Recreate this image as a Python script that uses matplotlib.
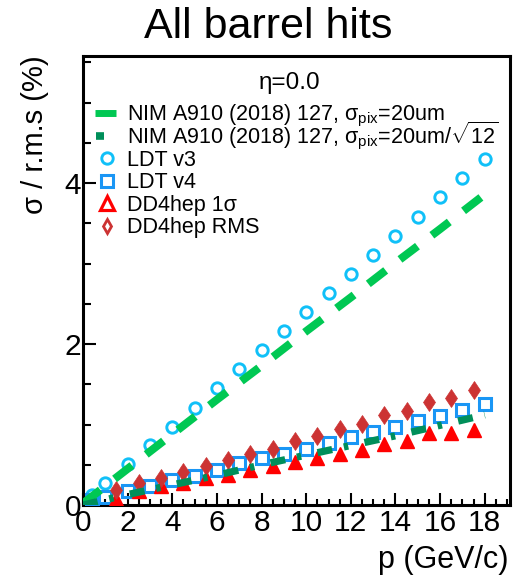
import matplotlib
matplotlib.use("Agg")
import matplotlib.pyplot as plt
from matplotlib.lines import Line2D
from matplotlib.ticker import MultipleLocator

plt.rcParams['font.family'] = ['Liberation Sans', 'DejaVu Sans']
plt.rcParams['mathtext.fontset'] = 'custom'
plt.rcParams['mathtext.rm'] = 'Liberation Sans'
plt.rcParams['mathtext.it'] = 'Liberation Sans:italic'
plt.rcParams['lines.scale_dashes'] = False

# data
p_v3 = [0.4, 1, 2, 3, 4, 5, 6, 7, 8, 9, 10, 11, 12, 13, 14, 15, 16, 17, 18]
ldt_v3 = [0.12, 0.27, 0.51, 0.74, 0.97, 1.20, 1.45, 1.69, 1.93, 2.16, 2.40,
          2.63, 2.87, 3.11, 3.34, 3.58, 3.83, 4.06, 4.30]
p_v4 = [0.4, 1, 2, 3, 4, 5, 6, 7, 8, 9, 10, 11, 12, 13, 14, 15, 16, 17, 18]
ldt_v4 = [0.06, 0.10, 0.17, 0.23, 0.31, 0.36, 0.43, 0.52, 0.58, 0.64, 0.70,
          0.77, 0.84, 0.91, 0.97, 1.05, 1.11, 1.18, 1.25]
p_dd = [1.5, 2.5, 3.5, 4.5, 5.5, 6.5, 7.5, 8.5, 9.5, 10.5, 11.5, 12.5, 13.5,
        14.5, 15.5, 16.5, 17.5]
dd_1sig = [0.08, 0.17, 0.23, 0.27, 0.33, 0.37, 0.43, 0.48, 0.53, 0.58, 0.63,
           0.68, 0.76, 0.80, 0.89, 0.89, 0.93]
dd_rms = [0.19, 0.27, 0.34, 0.41, 0.48, 0.56, 0.63, 0.70, 0.79, 0.86, 0.95,
          1.01, 1.12, 1.17, 1.28, 1.33, 1.43]
p_nim = [0, 2, 4, 6, 8, 10, 12, 14, 16, 18]
nim_20 = [0.02, 0.45, 0.88, 1.31, 1.73, 2.16, 2.58, 3.01, 3.43, 3.86]
nim_20s12 = [0.0, 0.13, 0.25, 0.37, 0.50, 0.62, 0.74, 0.86, 0.99, 1.12]

labels = ["NIM A910 (2018) 127, σ$_{\\rm pix}$=20um",
          "NIM A910 (2018) 127, σ$_{\\rm pix}$=20um/$\\sqrt{12}$",
          "LDT v3", "LDT v4", "DD4hep 1σ", "DD4hep RMS"]

c_light = '#00c853'
c_dark = '#008f5a'
c_v3 = '#10c0f8'
c_v4 = '#1a96f5'
c_tri = '#ff0000'
c_dia = '#cc3333'

W, H = 513, 577
fig = plt.figure(figsize=(W/100, H/100), dpi=100)
ax = fig.add_axes([83/W, 1-505/H, 427/W, 449/H])

ax.plot(p_v3, ldt_v3, ls='none', marker='o', ms=8.2, mfc='none', mec=c_v3, mew=2.1, zorder=3)
ax.plot(p_v4, ldt_v4, ls='none', marker='s', ms=8.2, mfc='none', mec=c_v4, mew=2.2, zorder=3)
ax.plot(p_dd, dd_1sig, ls='none', marker='^', ms=10.5, mfc=c_tri, mec=c_tri, mew=1, zorder=4)
ax.plot(p_dd, dd_rms, ls='none', marker='d', ms=9.5, mfc=c_dia, mec=c_dia, mew=0.5, zorder=4)
ax.plot(p_nim, nim_20, color=c_light, lw=5.8, dashes=(15.8, 13), zorder=5)
ax.plot(p_nim, nim_20s12, color=c_dark, lw=5.2, dashes=(10.8, 8.6, 3.2, 12), zorder=5)

ax.set_xlim(0, 19.13)
ax.set_ylim(0, 5.58)
ax.xaxis.set_major_locator(MultipleLocator(2))
ax.xaxis.set_minor_locator(MultipleLocator(0.5))
ax.yaxis.set_major_locator(MultipleLocator(2))
ax.yaxis.set_minor_locator(MultipleLocator(0.5))
ax.tick_params(axis='both', which='both', direction='in', width=1.5, labelsize=21.5,
               top=False, right=False)
ax.tick_params(axis='x', which='major', length=8.6, pad=3)
ax.tick_params(axis='x', which='minor', length=4.3)
ax.tick_params(axis='y', which='major', length=9.4, pad=1.5)
ax.tick_params(axis='y', which='minor', length=5.8)
for s in ax.spines.values():
    s.set_linewidth(2.2)

# legend, drawn by hand so the rows stay evenly spaced
styles = [
    dict(color=c_light, lw=5, solid_capstyle='butt'),
    dict(color=c_dark, lw=5.5, solid_capstyle='butt'),
    dict(ls='none', marker='o', ms=8.2, mfc='none', mec=c_v3, mew=2.1),
    dict(ls='none', marker='s', ms=8.2, mfc='none', mec=c_v4, mew=2.2),
    dict(ls='none', marker='^', ms=9.5, mfc='none', mec=c_tri, mew=2.3),
    dict(ls='none', marker='d', ms=7.5, mfc='none', mec=c_dia, mew=2.0),
]
spans = [(95, 116), (96, 104), None, None, None, None]
for i, (lab, st) in enumerate(zip(labels, styles)):
    yc = 113 + 22.5 * i
    if spans[i] is None:
        xs = [107/W]
    else:
        xs = [spans[i][0]/W, spans[i][1]/W]
    fig.add_artist(Line2D(xs, [1-yc/H]*len(xs), transform=fig.transFigure, **st))
    fig.text(127/W, 1-(yc+7.5)/H, lab, ha='left', va='baseline', fontsize=15.5)

fig.text(290/W, 1-89/H, "η=0.0", ha='center', va='baseline', fontsize=17.5)
fig.text(268/W, 1-38/H, "All barrel hits", ha='center', va='baseline', fontsize=31)
fig.text(508/W, 1-568/H, "p (GeV/c)", ha='right', va='baseline', fontsize=22)
fig.text(35/W, 1-55/H, "σ / r.m.s (%)", rotation=90, ha='center', va='top', fontsize=21)

fig.savefig("out.png", dpi=100)
